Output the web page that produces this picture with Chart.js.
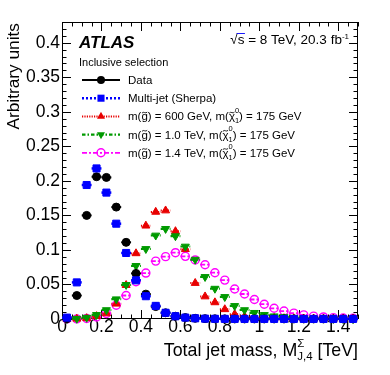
<!DOCTYPE html>
<html><head><meta charset="utf-8">
<script src="https://cdn.jsdelivr.net/npm/chart.js@4/dist/chart.umd.min.js"></script>
<style>html,body{margin:0;padding:0;background:#fff;}#wrap{width:390px;height:375px;position:relative;}</style>
</head><body><div id="wrap"><canvas id="c"></canvas></div>
<script>
// ---- data (bin centres in TeV, bin width 0.05) ----
const massBins = [0.025,0.075,0.125,0.175,0.225,0.275,0.325,0.375,0.425,0.475,0.525,0.575,0.625,0.675,0.725,0.775,0.825,0.875,0.925,0.975,1.025,1.075,1.125,1.175,1.225,1.275,1.325,1.375,1.425,1.475];
const dataValues = [0.0005,0.034,0.150,0.206,0.205,0.162,0.111,0.066,0.036,0.018,0.009,0.004,0.002,0.001,0.0005,0.0003,0.0002,0.0001,0.0001,0.0001,0.0001,0.0001,0.0001,0.0001,0.0001,0.0001,0.0001,0.0001,0.0001,0.0001];
const multijetValues = [0.002,0.053,0.194,0.218,0.183,0.138,0.0956,0.056,0.033,0.019,0.009,0.004,0.002,0.001,0.0005,0.0003,0.0002,0.0001,0.0001,0.0001,0.0001,0.0001,0.0001,0.0001,0.0001,0.0001,0.0001,0.0001,0.0001,0.0001];
const gluino600Values = [0,0.0003,0.001,0.004,0.008,0.022,0.049,0.095,0.135,0.155,0.157,0.127,0.101,0.052,0.0325,0.024,0.014,0.007,0.004,0.003,0.002,0.0015,0.001,0.0008,0.0005,0.0004,0.0003,0.0002,0.0001,0.0001];
const gluino1000Values = [0,0.0005,0.002,0.006,0.013,0.0287,0.0495,0.077,0.1015,0.121,0.1306,0.120,0.105,0.086,0.061,0.044,0.032,0.019,0.013,0.009,0.006,0.004,0.003,0.002,0.0015,0.001,0.0008,0.0005,0.0003,0.0002];
const gluino1400Values = [0,0.0002,0.0008,0.003,0.008,0.020,0.034,0.054,0.0665,0.0838,0.0903,0.096,0.0907,0.0855,0.0786,0.067,0.0563,0.0434,0.0362,0.0282,0.0214,0.0155,0.0115,0.0085,0.006,0.0042,0.003,0.002,0.0015,0.001];
const xTickValues = [0,0.2,0.4,0.6,0.8,1,1.2,1.4];
const yTickValues = [0,0.05,0.1,0.15,0.2,0.25,0.3,0.35,0.4];
const binHalfWidth = 0.025;
const seriesNames = ['Data','Multi-jet (Sherpa)'];
const gluinoMassLabels = ['600 GeV','1.0 TeV','1.4 TeV'];
const neutralinoMassLabel = '175 GeV';

const FONT = '"Liberation Sans", Arial, Helvetica, sans-serif';
const RED = '#e80000', GREEN = '#009a00', BLUE = '#0000ff', MAG = '#ff00ff';

const styleData = {color:'#000', dash:[], lw:2, shape:'circle', r:4, filled:true};
const styleMJ   = {color:BLUE, dash:[2,2], lw:2.5, shape:'rect', r:5, filled:true};
const styleG6   = {color:RED, dash:[1.2,1.2], lw:2, shape:'triangle', r:4.6, filled:true};
const styleG10  = {color:GREEN, dash:[3.5,2,1.5,2], lw:2.2, shape:'down', r:4.6, filled:true};
const styleG14  = {color:MAG, dash:[5,2,2,2], lw:1.8, shape:'circle', r:4, filled:false};

function mk(label, vals, st, order){
  return {
    label, order,
    data: massBins.map((x,i)=>({x, y: vals[i]})),
    showLine:false,
    borderColor: st.color,
    backgroundColor: st.filled ? st.color : 'rgba(0,0,0,0)',
    pointStyle: st.shape==='down' ? 'triangle' : st.shape,
    rotation: st.shape==='down' ? 180 : 0,
    pointRadius: st.r, pointHoverRadius: st.r,
    pointBorderWidth: st.filled ? 1 : 1.4,
    barDash: st.dash, barWidth: st.lw,
    clip: false
  };
}

function setFont(ctx, size, style){ ctx.font = (style?style+' ':'') + size + 'px ' + FONT; }
function drawTilde(ctx, cx, cy, w, size){
  ctx.save(); ctx.lineWidth = Math.max(0.8, size*0.075); ctx.strokeStyle = ctx.fillStyle; ctx.setLineDash([]);
  const a = size*0.07;
  ctx.beginPath();
  ctx.moveTo(cx - w/2, cy + a*0.6);
  ctx.bezierCurveTo(cx - w/5, cy - a*2, cx + w/5, cy + a*2, cx + w/2, cy - a*0.6);
  ctx.stroke(); ctx.restore();
}
function richText(ctx, x, y, parts, draw){
  let cx = x;
  ctx.textAlign = 'left'; ctx.textBaseline = 'alphabetic';
  for (const p of parts){
    if (p.sup !== undefined || p.sub !== undefined){
      setFont(ctx, p.s);
      let w = 0;
      if (p.sup !== undefined){ w = Math.max(w, ctx.measureText(p.sup).width); if (draw) ctx.fillText(p.sup, cx, y + p.supDy); }
      if (p.sub !== undefined){ w = Math.max(w, ctx.measureText(p.sub).width); if (draw) ctx.fillText(p.sub, cx, y + p.subDy); }
      cx += w + (p.gap||0);
    } else {
      setFont(ctx, p.s, p.style);
      const w = ctx.measureText(p.t).width;
      if (draw){
        ctx.fillText(p.t, cx, y);
        if (p.tilde) drawTilde(ctx, cx + w/2, y - p.s*0.68, p.s*0.45, p.s);
      }
      cx += w;
    }
  }
  return cx - x;
}
function drawMarker(ctx, st, x, y){
  ctx.save(); ctx.setLineDash([]); ctx.fillStyle = st.color; ctx.strokeStyle = st.color; ctx.lineWidth = 1.4;
  const r = st.r; ctx.beginPath();
  if (st.shape==='circle') ctx.arc(x, y, r, 0, Math.PI*2);
  else if (st.shape==='rect'){ const s = r*Math.SQRT1_2; ctx.rect(x-s, y-s, 2*s, 2*s); }
  else {
    let rad = st.shape==='down' ? Math.PI : 0;
    ctx.moveTo(x + Math.sin(rad)*r, y - Math.cos(rad)*r);
    rad += 2*Math.PI/3; ctx.lineTo(x + Math.sin(rad)*r, y - Math.cos(rad)*r);
    rad += 2*Math.PI/3; ctx.lineTo(x + Math.sin(rad)*r, y - Math.cos(rad)*r);
    ctx.closePath();
  }
  if (st.filled) ctx.fill(); else ctx.stroke();
  ctx.restore();
}

const errBars = {
  id:'errBars',
  beforeDatasetDraw(chart, args){
    const ds = chart.data.datasets[args.index];
    const xs = chart.scales.x, ys = chart.scales.y, ctx = chart.ctx;
    ctx.save();
    ctx.strokeStyle = ds.borderColor; ctx.lineWidth = ds.barWidth; ctx.setLineDash(ds.barDash);
    ds.data.forEach(p=>{
      const y = ys.getPixelForValue(p.y);
      ctx.beginPath();
      ctx.moveTo(xs.getPixelForValue(p.x - binHalfWidth), y);
      ctx.lineTo(xs.getPixelForValue(p.x + binHalfWidth), y);
      ctx.stroke();
    });
    ctx.restore();
  }
};

const frameTicks = {
  id:'frameTicks',
  beforeDatasetsDraw(chart){
    const {ctx, chartArea:a} = chart; const xs = chart.scales.x, ys = chart.scales.y;
    ctx.save(); ctx.strokeStyle = '#000'; ctx.lineWidth = 1; ctx.setLineDash([]);
    ctx.strokeRect(a.left+0.5, a.top+0.5, a.right-a.left-1, a.bottom-a.top-1);
    ctx.beginPath();
    for (let k = 0; k <= 30; k++){
      const v = k*0.05; const px = Math.round(xs.getPixelForValue(v))+0.5;
      const L = (k % 4 === 0) ? 9 : 4.5;
      ctx.moveTo(px, a.bottom); ctx.lineTo(px, a.bottom - L);
      ctx.moveTo(px, a.top); ctx.lineTo(px, a.top + L);
    }
    for (let k = 0; k <= 43; k++){
      const v = k*0.01; const py = Math.round(ys.getPixelForValue(v))+0.5;
      const L = (k % 5 === 0) ? 9 : 4.5;
      ctx.moveTo(a.left, py); ctx.lineTo(a.left + L, py);
      ctx.moveTo(a.right, py); ctx.lineTo(a.right - L, py);
    }
    ctx.stroke(); ctx.restore();
  },
  afterDraw(chart){
    const {ctx, chartArea:a} = chart;
    ctx.save(); ctx.fillStyle = '#000';
    // ATLAS label
    setFont(ctx, 17, 'italic bold'); ctx.textAlign='left'; ctx.textBaseline='alphabetic';
    ctx.fillText('ATLAS', 79, 48);
    // sqrt(s)
    const sParts = [{t:'√s = 8 TeV, 20.3 fb', s:13.5},{sup:'-1', s:8, supDy:-5}];
    const sw = richText(ctx, 0, 0, sParts, false);
    const sx = 349 - sw;
    richText(ctx, sx, 43.5, sParts, true);
    setFont(ctx, 13.5); const rw = ctx.measureText('√').width, ssw = ctx.measureText('s').width;
    ctx.lineWidth = 0.9; ctx.beginPath(); ctx.moveTo(sx + rw - 1, 33.5); ctx.lineTo(sx + rw + ssw + 0.5, 33.5); ctx.stroke();
    // Inclusive selection
    setFont(ctx, 11); ctx.fillText('Inclusive selection', 79, 65.7);
    // legend
    const rows = [
      {st:styleData, parts:[{t:seriesNames[0], s:11.5}]},
      {st:styleMJ, parts:[{t:seriesNames[1], s:11.5}]},
      {st:styleG6, m:gluinoMassLabels[0]},
      {st:styleG10, m:gluinoMassLabels[1]},
      {st:styleG14, m:gluinoMassLabels[2]}
    ];
    rows.forEach((row, i)=>{
      const yc = 80 + i*18.2;
      ctx.save(); ctx.strokeStyle = row.st.color; ctx.lineWidth = row.st.lw; ctx.setLineDash(row.st.dash);
      ctx.beginPath(); ctx.moveTo(82, yc); ctx.lineTo(120, yc); ctx.stroke(); ctx.restore();
      drawMarker(ctx, row.st, 101, yc);
      const parts = row.parts || [
        {t:'m(', s:11.5},{t:'g', s:11.5, tilde:true},{t:') = ' + row.m + ', m(', s:11.5},
        {t:'χ', s:11.5, tilde:true},{sup:'0', sub:'1', s:7.5, supDy:-7.5, subDy:3},{t:') = ' + neutralinoMassLabel, s:11.5}
      ];
      ctx.fillStyle = '#000';
      richText(ctx, 128, yc + 4, parts, true);
    });
    // x title
    const xParts = [{t:'Total jet mass, M', s:17.8},{sup:'Σ', sub:'J,4', s:11.5, supDy:-9.5, subDy:4},{t:' [TeV]', s:17.8}];
    const xw = richText(ctx, 0, 0, xParts, false);
    richText(ctx, a.right - xw, 356, xParts, true);
    // y title
    ctx.translate(19, a.top + 1); ctx.rotate(-Math.PI/2);
    setFont(ctx, 17.3); ctx.textAlign = 'right'; ctx.textBaseline='alphabetic';
    ctx.fillText('Arbitrary units', 0, 0);
    ctx.restore();
  }
};

const fmt = v => String(Math.round(v*100)/100);

new Chart(document.getElementById('c'), {
  type:'scatter',
  data:{ datasets:[
    mk(seriesNames[1], multijetValues, styleMJ, 0),
    mk(seriesNames[0], dataValues, styleData, 1),
    mk('1.0 TeV', gluino1000Values, styleG10, 2),
    mk('600 GeV', gluino600Values, styleG6, 3),
    mk('1.4 TeV', gluino1400Values, styleG14, 4)
  ]},
  options:{
    responsive:true, maintainAspectRatio:false, animation:false,
    devicePixelRatio:1,
    layout:{padding:{top:22, right:32, left:0, bottom:0}},
    plugins:{legend:{display:false}, tooltip:{enabled:false}},
    events:[],
    scales:{
      x:{type:'linear', min:0, max:1.5,
        grid:{display:false, drawTicks:false}, border:{display:false},
        ticks:{font:{family:FONT, size:17.5}, color:'#000', padding:-2, maxRotation:0, autoSkip:false, callback:fmt},
        afterBuildTicks:s=>{ s.ticks = xTickValues.map(v=>({value:v})); },
        afterFit:s=>{ s.height = 56; }
      },
      y:{type:'linear', min:0, max:0.43,
        grid:{display:false, drawTicks:false}, border:{display:false},
        ticks:{font:{family:FONT, size:17.5}, color:'#000', padding:2, autoSkip:false, callback:fmt},
        afterBuildTicks:s=>{ s.ticks = yTickValues.map(v=>({value:v})); },
        afterFit:s=>{ s.width = 62; }
      }
    }
  },
  plugins:[errBars, frameTicks]
});
</script></body></html>
